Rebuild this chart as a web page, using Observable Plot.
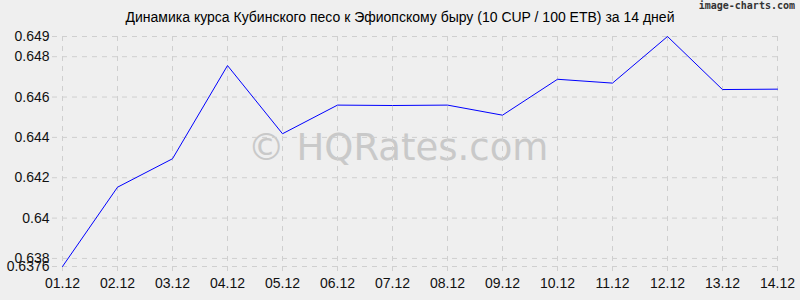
<!DOCTYPE html>
<html>
<head>
<meta charset="utf-8">
<script src="https://cdn.jsdelivr.net/npm/d3@7"></script>
<script src="https://cdn.jsdelivr.net/npm/@observablehq/plot@0.6"></script>
<style>
  html, body { margin: 0; padding: 0; background: #efefef; }
  #wrap { position: relative; width: 800px; height: 300px; background: #efefef; overflow: hidden; }
  #title { position: absolute; top: 9px; left: 0; width: 800px; text-align: center;
           font-family: "Liberation Sans", Arial, sans-serif; font-size: 14px; color: #000; }
  #brand { position: absolute; top: 0px; right: 5px; font-family: "DejaVu Sans Mono", monospace;
           font-size: 10px; color: #333; font-weight: bold; }
  #chart { position: absolute; top: 0; left: 0; }
</style>
</head>
<body>
<div id="wrap">
  <div id="chart"></div>
  <div id="title">Динамика курса Кубинского песо к Эфиопскому быру (10 CUP / 100 ETB) за 14 дней</div>
  <div id="brand">image-charts.com</div>
</div>
<script>
const dates = ["01.12","02.12","03.12","04.12","05.12","06.12","07.12","08.12","09.12","10.12","11.12","12.12","13.12","14.12"];
const rates = [0.6376, 0.64153, 0.64294, 0.64756, 0.64418, 0.6456, 0.64558, 0.6456, 0.6451, 0.64688, 0.64669, 0.649, 0.64637, 0.64639];
const yTicks = [0.6376, 0.638, 0.64, 0.642, 0.644, 0.646, 0.648, 0.649];
const yTickLabels = ["0.6376", "0.638", "0.64", "0.642", "0.644", "0.646", "0.648", "0.649"];
const watermark = ["© HQRates.com"];

const data = dates.map((d, i) => ({date: d, rate: rates[i]}));
const labelOf = new Map(yTicks.map((t, i) => [t, yTickLabels[i]]));

const chart = Plot.plot({
  width: 800,
  height: 300,
  marginLeft: 60,
  marginRight: 21,
  marginTop: 36,
  marginBottom: 34,
  style: {background: "#efefef", fontFamily: "Liberation Sans, Arial, sans-serif", fontSize: "14px", color: "#000"},
  x: {type: "point", domain: dates, padding: 0, label: null},
  y: {domain: [0.6376, 0.649], label: null},
  marks: [
    Plot.text(watermark, {frameAnchor: "middle", dx: -22, dy: -3, fontSize: 37,
      fontFamily: "DejaVu Sans, sans-serif", fill: "#c9c9c9", text: d => d}),
    Plot.ruleY(yTicks, {y: d => d, stroke: "#cfcfcf", strokeDasharray: "5,5", insetLeft: -8}),
    Plot.ruleX(dates, {x: d => d, stroke: "#cfcfcf", strokeDasharray: "5,5", insetBottom: -8}),
    Plot.axisY(yTicks, {tickSize: 0, tickPadding: 11, tickFormat: d => labelOf.get(d), fontSize: 14, fill: "#111"}),
    Plot.axisX(dates, {tickSize: 0, tickPadding: 12, fontSize: 14, fill: "#111"}),
    Plot.line(data, {x: "date", y: "rate", stroke: "#0000ff", strokeWidth: 1})
  ]
});
document.getElementById("chart").appendChild(chart);
</script>
</body>
</html>
